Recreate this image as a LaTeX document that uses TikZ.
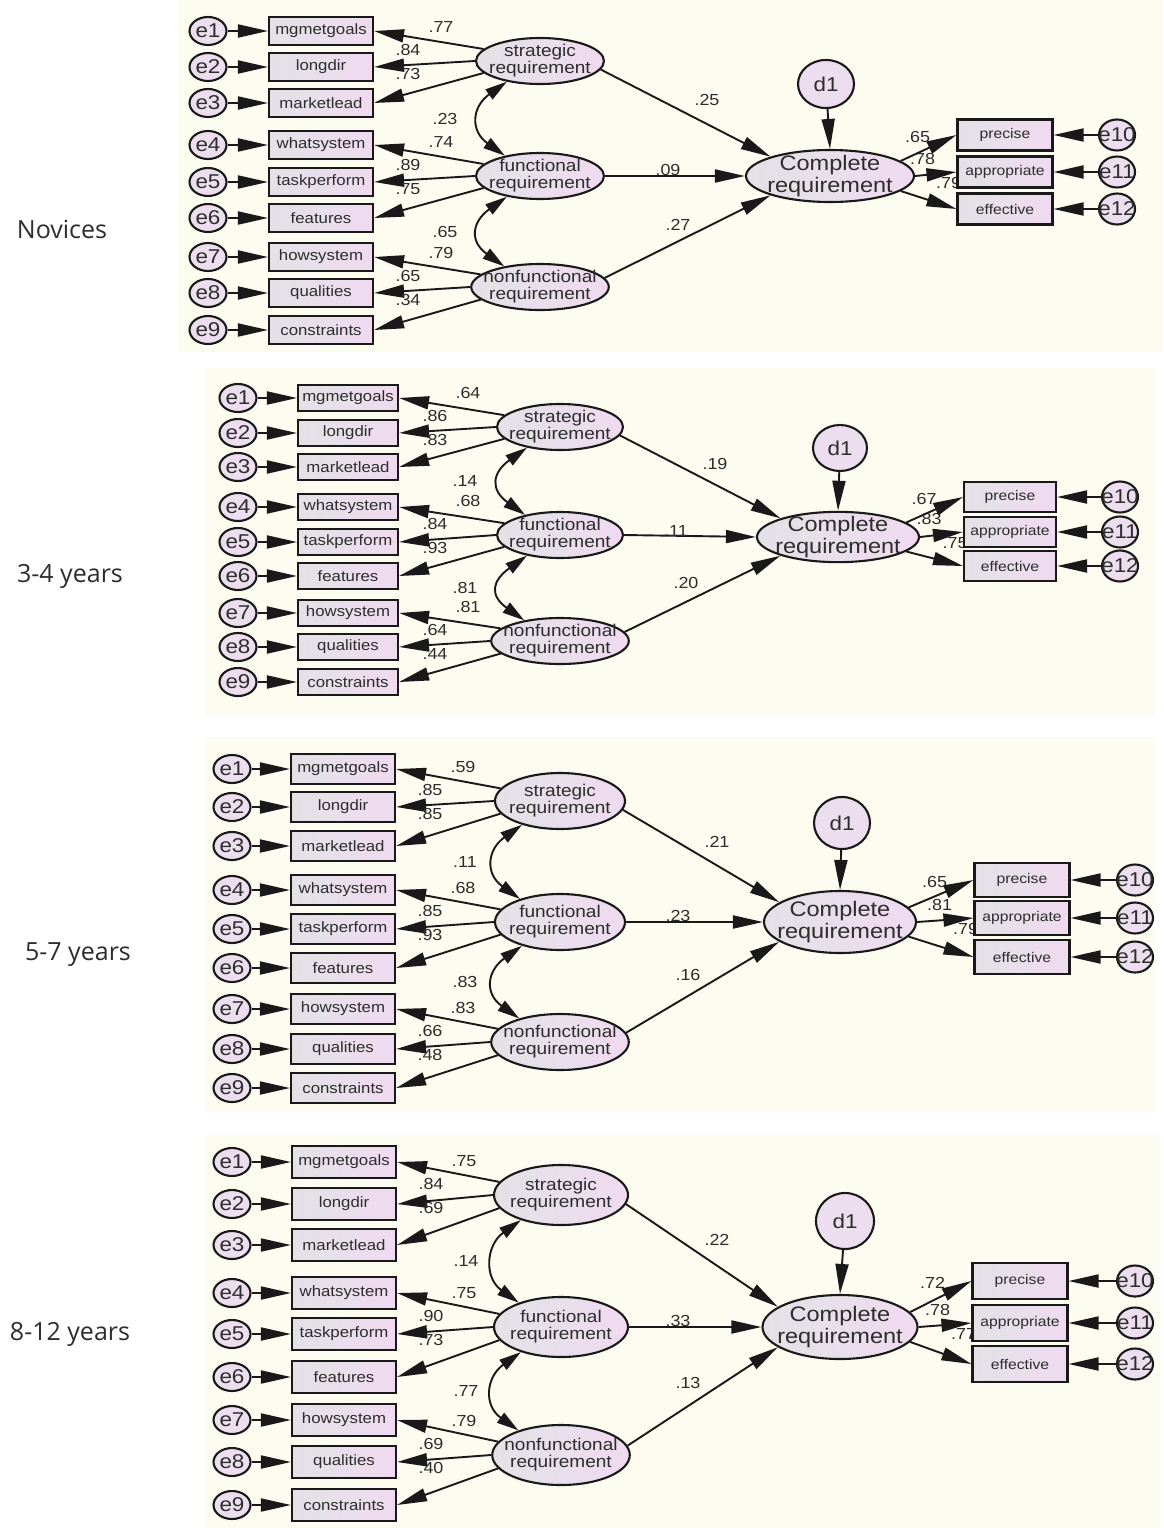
\documentclass[tikz,border=0pt]{standalone}
\usepackage{fontspec}
\usetikzlibrary{shapes.geometric,arrows.meta}
\newfontfamily\amos[FakeStretch=1.12]{Liberation Sans}
\newfontfamily\grpfont{Open Sans}
\definecolor{panelbg}{RGB}{252,252,240}
\definecolor{inkc}{RGB}{25,25,25}
\definecolor{txtc}{RGB}{45,45,45}
\definecolor{shgray}{RGB}{226,226,230}
\definecolor{shpink}{RGB}{240,218,240}
\definecolor{errfill}{RGB}{236,222,238}

% indicator names of the measurement model
\newcommand\itemname[1]{\ifcase#1\or mgmetgoals\or longdir\or marketlead\or whatsystem\or taskperform\or features\or howsystem\or qualities\or constraints\fi}

\tikzset{
  base/.style={draw=inkc, line width=2.1, text=txtc, inner sep=0},
  errnode/.style={base, ellipse, fill=errfill, minimum width=37, minimum height=28,
    inner sep=-10pt, font=\amos\fontsize{20}{20}\selectfont},
  obsnode/.style={base, rectangle, left color=shgray, right color=shpink,
    font=\amos\fontsize{15}{15}\selectfont},
  latnode/.style={base, ellipse, left color=shgray, right color=shpink, align=center,
    inner xsep=-8pt, inner ysep=-3pt, font=\amos\fontsize{17}{17}\selectfont},
  cnode/.style={base, ellipse, left color=shgray, right color=shpink, align=center,
    inner xsep=-10pt, inner ysep=-3pt, font=\amos\fontsize{21}{22}\selectfont},
  dnode/.style={base, ellipse, fill=errfill, inner sep=-6pt, font=\amos\fontsize{20}{20}\selectfont},
  indnode/.style={base, rectangle, left color=shgray, right color=shpink,
    font=\amos\fontsize{14}{14}\selectfont},
  arr/.style={draw=inkc, line width=1.9, -{Triangle[length=30pt,width=13pt]}},
  dbl/.style={draw=inkc, line width=1.9,
    {Triangle[length=22pt,width=12pt]}-{Triangle[length=22pt,width=12pt]}},
  coef/.style={text=txtc, inner sep=0, font=\amos\fontsize{16}{16}\selectfont},
  grp/.style={text=txtc, inner sep=0, font=\grpfont\fontsize{25}{25}\selectfont},
}

% one structural model: #1 prefix, #2-#4 right loadings,
% #5-#6 correlations, #7-#9 structural paths
\newcommand\sempanel[9]{%
  \node[latnode, minimum width=\zLW, minimum height=\zLH] (#1-s) at (\zLX,\zSY) {strategic\\requirement};
  \node[latnode, minimum width=\zLW, minimum height=\zLH] (#1-f) at (\zLX,\zFY) {functional\\requirement};
  \node[latnode, minimum width=\zLW, minimum height=\zLH] (#1-n) at (\zLX,\zNY) {nonfunctional\\requirement};
  \foreach \i/\y/\lab in \zrows {%
    \pgfmathtruncatemacro\zg{(\i-1)/3}%
    \pgfmathtruncatemacro\zk{\i-1-3*\zg}%
    \ifcase\zg \def\zlat{s}\let\zLY\zSY\or \def\zlat{f}\let\zLY\zFY\or \def\zlat{n}\let\zLY\zNY\fi
    \ifcase\zk \def\zang{168}\def\zlx{120}\def\zly{-34}%
    \or \def\zang{180}\def\zlx{87}\def\zly{-11}%
    \or \def\zang{192}\def\zlx{87}\def\zly{13}\fi
    \node[errnode] (#1-e\i) at (\zEX,\y) {e\i};
    \node[obsnode, minimum width=\zBW, minimum height=\zBH] (#1-o\i) at (\zBX,\y) {\itemname{\i}};
    \node[coef] (#1-l\i) at (\zBX+\zlx,\zLY+\zly) {\lab};
    \draw[arr] (#1-e\i) -- (#1-o\i);
    \draw[arr] (#1-\zlat.\zang) -- (#1-o\i.east);
  }
  % correlations between the three latent factors
  \draw[dbl] (#1-s.212) .. controls +(-35,25) and +(-35,-25) .. (#1-f.150);
  \draw[dbl] (#1-f.212) .. controls +(-35,25) and +(-35,-25) .. (#1-n.150);
  \node[coef] (#1-csf) at (\zLX-95,{(\zSY+\zFY)/2}) {#5};
  \node[coef] (#1-cfn) at (\zLX-95,{(\zFY+\zNY)/2}) {#6};
  % outcome factor
  \node[cnode, minimum width=\zCW, minimum height=\zCH] (#1-c) at (\zCX,\zCY) {Complete\\requirement};
  \node[dnode, minimum width=\zDW, minimum height=\zDH] (#1-d) at (\zDX,\zDY) {d1};
  \draw[arr] (#1-d) -- (#1-c.north);
  \draw[arr] (#1-s.-8) -- (#1-c.162);
  \draw[arr] (#1-f.east) -- (#1-c.west);
  \draw[arr] (#1-n.8) -- (#1-c.198);
  \node[coef] (#1-ps) at (\zCX-123,{\zCY+0.66*(\zSY-\zCY)}) {#7};
  \node[coef] (#1-pf) at (\zCX-162,\zCY-6) {#8};
  \node[coef] (#1-pn) at (\zCX-152,{\zCY+0.44*(\zNY-\zCY)}) {#9};
  % right-hand indicators
  \node[coef] (#1-r1) at (\zIX-\zIW/2-40,\zIA+2) {#2};
  \node[coef] (#1-r2) at (\zIX-\zIW/2-35,\zIB-13) {#3};
  \node[coef] (#1-r3) at (\zIX-\zIW/2-9,\zIB+11) {#4};
  \foreach \j/\t/\yy/\n/\a in {p/precise/\zIA/10/12, q/appropriate/\zIB/11/0, r/effective/\zIC/12/-12} {%
    \node[indnode, minimum width=\zIW, minimum height=\zIH] (#1-\j) at (\zIX,\yy) {\t};
    \node[errnode, minimum width=36, minimum height=31, font=\amos\fontsize{20}{20}\selectfont] (#1-x\n) at (\zRX,\yy) {e\n};
    \draw[arr] (#1-x\n) -- (#1-\j.east);
    \draw[arr] (#1-c.\a) -- (#1-\j.west);
  }
}

\begin{document}
\begin{tikzpicture}[x=1pt,y=-1pt]
\useasboundingbox (0,0) rectangle (1163,1528);
\fill[white] (0,0) rectangle (1163,1528);
\fill[panelbg] (178,0) rectangle (1163,352);
\fill[panelbg] (205,368) rectangle (1155,716);
\fill[panelbg] (205,737) rectangle (1155,1112);
\fill[panelbg] (205,1135) rectangle (1160,1528);

\node[grp] (lab-a) at (62,229) {Novices};
\node[grp] (lab-b) at (70,576) {3-4 years};
\node[grp] (lab-c) at (78,955) {5-7 years};
\node[grp] (lab-d) at (70,1334) {8-12 years};

% Novices
\def\zEX{208}\def\zBX{321}\def\zBW{104}\def\zBH{28}
\def\zLX{540}\def\zLW{128}\def\zLH{46}\def\zSY{61}\def\zFY{176}\def\zNY{287}
\def\zrows{1/31/.77,2/67/.84,3/103/.73,4/145/.74,5/182/.89,6/218/.75,7/257/.79,8/293/.65,9/330/.34}
\def\zCX{830}\def\zCY{176}\def\zCW{168}\def\zCH{52}
\def\zDX{826}\def\zDY{84}\def\zDW{56}\def\zDH{48}
\def\zIX{1005}\def\zIW{95}\def\zIH{31}\def\zIA{135}\def\zIB{172}\def\zIC{209}\def\zRX{1117}
\sempanel{a}{.65}{.78}{.79}{.23}{.65}{.25}{.09}{.27}

% 3-4 years
\def\zEX{238}\def\zBX{348}\def\zBW{100}\def\zBH{26}
\def\zLX{560}\def\zLW{126}\def\zLH{46}\def\zSY{427}\def\zFY{535}\def\zNY{641}
\def\zrows{1/398/.64,2/433/.86,3/467/.83,4/507/.68,5/542/.84,6/576/.93,7/613/.81,8/647/.64,9/682/.44}
\def\zCX{838}\def\zCY{537}\def\zCW{162}\def\zCH{50}
\def\zDX{840}\def\zDY{448}\def\zDW{54}\def\zDH{46}
\def\zIX{1010}\def\zIW{92}\def\zIH{30}\def\zIA{497}\def\zIB{532}\def\zIC{566}\def\zRX{1120}
\sempanel{b}{.67}{.83}{.75}{.14}{.81}{.19}{.11}{.20}

% 5-7 years
\def\zEX{232}\def\zBX{343}\def\zBW{104}\def\zBH{30}
\def\zLX{560}\def\zLW{130}\def\zLH{56}\def\zSY{801}\def\zFY{922}\def\zNY{1042}
\def\zrows{1/769/.59,2/807/.85,3/846/.85,4/890/.68,5/929/.85,6/968/.93,7/1009/.83,8/1049/.66,9/1088/.48}
\def\zCX{840}\def\zCY{922}\def\zCW{152}\def\zCH{62}
\def\zDX{842}\def\zDY{823}\def\zDW{56}\def\zDH{52}
\def\zIX{1022}\def\zIW{95}\def\zIH{34}\def\zIA{880}\def\zIB{918}\def\zIC{957}\def\zRX{1135}
\sempanel{c}{.65}{.81}{.79}{.11}{.83}{.21}{.23}{.16}

% 8-12 years
\def\zEX{232}\def\zBX{344}\def\zBW{104}\def\zBH{32}
\def\zLX{561}\def\zLW{134}\def\zLH{60}\def\zSY{1195}\def\zFY{1327}\def\zNY{1455}
\def\zrows{1/1162/.75,2/1204/.84,3/1245/.69,4/1293/.75,5/1334/.90,6/1377/.73,7/1420/.79,8/1462/.69,9/1505/.40}
\def\zCX{840}\def\zCY{1327}\def\zCW{155}\def\zCH{64}
\def\zDX{845}\def\zDY{1221}\def\zDW{58}\def\zDH{56}
\def\zIX{1020}\def\zIW{95}\def\zIH{36}\def\zIA{1281}\def\zIB{1323}\def\zIC{1364}\def\zRX{1135}
\sempanel{d}{.72}{.78}{.77}{.14}{.77}{.22}{.33}{.13}
\end{tikzpicture}
\end{document}
